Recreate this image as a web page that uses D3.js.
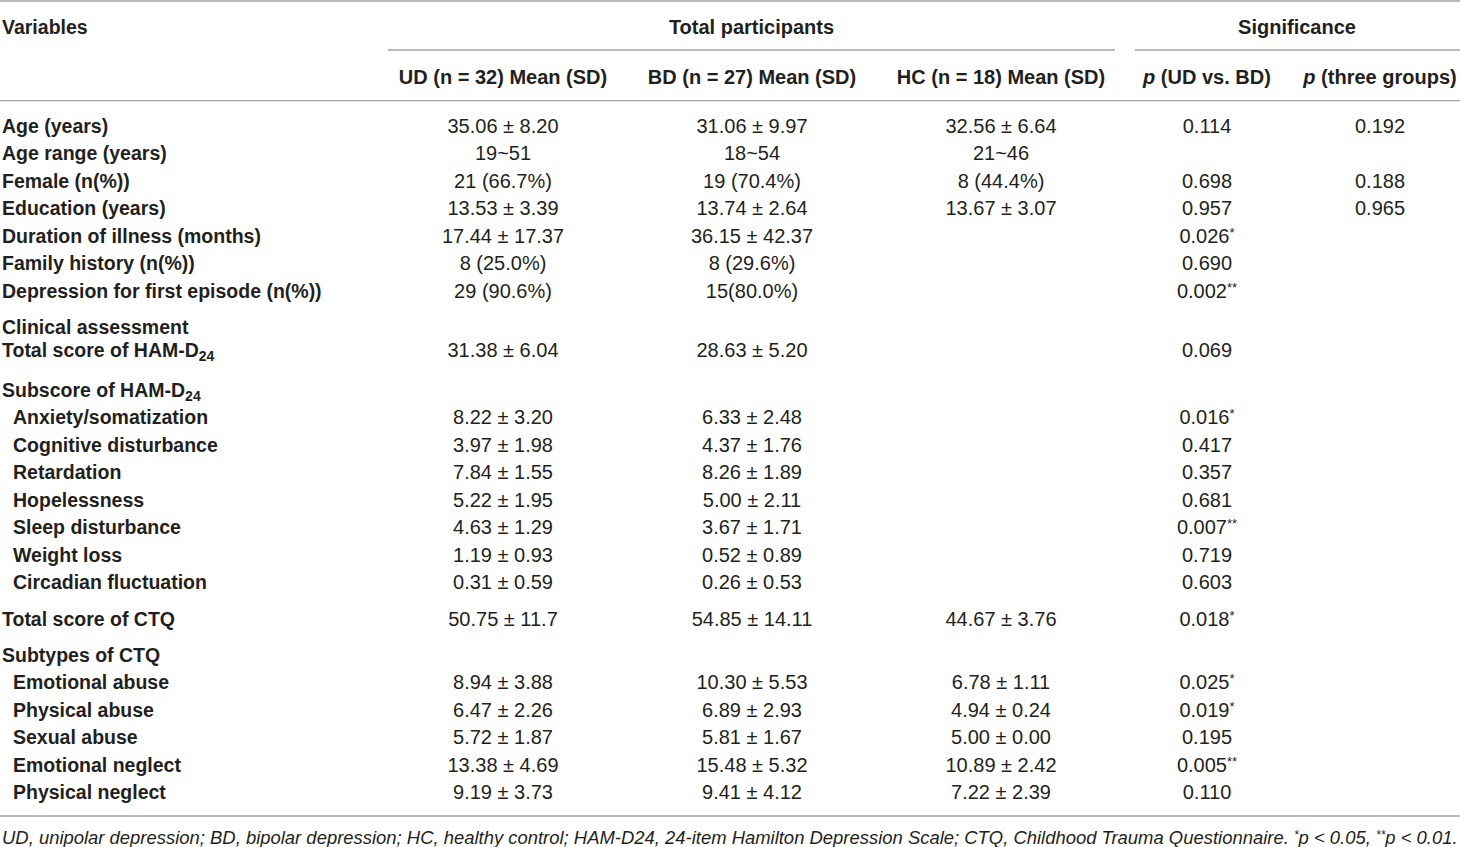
<!DOCTYPE html>
<html>
<head>
<meta charset="utf-8">
<script src="https://cdn.jsdelivr.net/npm/d3@7"></script>
<style>
  body { margin: 0; background: #fff; }
  svg text { font-family: "Liberation Sans", Arial, Helvetica, sans-serif; fill: #231f20; }
  .b { font-weight: bold; font-size: 19.5px; }
  .h { font-size: 20px; }
  .v { font-size: 20px; }
</style>
</head>
<body>
<svg id="chart" width="1460" height="847"></svg>
<script>
// table contents
var groupHeads = ["Total participants", "Significance"];
var colHeads = ["UD (n = 32) Mean (SD)", "BD (n = 27) Mean (SD)", "HC (n = 18) Mean (SD)"];
var sigHeads = ["(UD vs. BD)", "(three groups)"];

var labels = ["Age (years)", "Age range (years)", "Female (n(%))", "Education (years)",
  "Duration of illness (months)", "Family history (n(%))", "Depression for first episode (n(%))",
  "Clinical assessment", "Total score of HAM-D24", "Subscore of HAM-D24",
  "Anxiety/somatization", "Cognitive disturbance", "Retardation", "Hopelessness",
  "Sleep disturbance", "Weight loss", "Circadian fluctuation", "Total score of CTQ",
  "Subtypes of CTQ", "Emotional abuse", "Physical abuse", "Sexual abuse",
  "Emotional neglect", "Physical neglect"];
var level = [0,0,0,0,0,0,0,0,0,0,1,1,1,1,1,1,1,0,0,1,1,1,1,1];

var ud = ["35.06 ± 8.20","19~51","21 (66.7%)","13.53 ± 3.39","17.44 ± 17.37","8 (25.0%)","29 (90.6%)",
  "","31.38 ± 6.04","","8.22 ± 3.20","3.97 ± 1.98","7.84 ± 1.55","5.22 ± 1.95","4.63 ± 1.29",
  "1.19 ± 0.93","0.31 ± 0.59","50.75 ± 11.7","","8.94 ± 3.88","6.47 ± 2.26","5.72 ± 1.87",
  "13.38 ± 4.69","9.19 ± 3.73"];
var bd = ["31.06 ± 9.97","18~54","19 (70.4%)","13.74 ± 2.64","36.15 ± 42.37","8 (29.6%)","15(80.0%)",
  "","28.63 ± 5.20","","6.33 ± 2.48","4.37 ± 1.76","8.26 ± 1.89","5.00 ± 2.11","3.67 ± 1.71",
  "0.52 ± 0.89","0.26 ± 0.53","54.85 ± 14.11","","10.30 ± 5.53","6.89 ± 2.93","5.81 ± 1.67",
  "15.48 ± 5.32","9.41 ± 4.12"];
var hc = ["32.56 ± 6.64","21~46","8 (44.4%)","13.67 ± 3.07","","","",
  "","","","","","","","","","","44.67 ± 3.76","","6.78 ± 1.11","4.94 ± 0.24","5.00 ± 0.00",
  "10.89 ± 2.42","7.22 ± 2.39"];
var pUdBd = ["0.114","","0.698","0.957","0.026*","0.690","0.002**","","0.069","","0.016*","0.417",
  "0.357","0.681","0.007**","0.719","0.603","0.018*","","0.025*","0.019*","0.195","0.005**","0.110"];
var pThree = ["0.192","","0.188","0.965","","","","","","","","","","","","","","","","","","","",""];

var footnote = "UD, unipolar depression; BD, bipolar depression; HC, healthy control; HAM-D24, 24-item Hamilton Depression Scale; CTQ, Childhood Trauma Questionnaire. ";

var svg = d3.select("#chart");
var lineColor = "#a3a3a3";

// columns
var xGroup = d3.scalePoint().domain(colHeads).range([503, 1001]);
var xSig = d3.scalePoint().domain(sigHeads).range([1207, 1380]);

// rows: regular step, with extra space where a block starts
var extra = {"Clinical assessment": 8.5, "Total score of HAM-D24": -4.5, "Subscore of HAM-D24": 12.5,
  "Total score of CTQ": 9, "Subtypes of CTQ": 8.5};
var rowY = [];
var yy = 126;
labels.forEach(function(l, i){
    if (i > 0) yy += 27.5 + (extra[l] || 0);
    rowY.push(yy);
});

function hline(x1, x2, y){
    svg.append("line").attr("x1", x1).attr("x2", x2).attr("y1", y).attr("y2", y)
        .attr("stroke", lineColor).attr("stroke-width", 1.3);
}
hline(0, 1460, 1);
hline(388, 1115, 50);
hline(1135, 1460, 50);
hline(0, 1460, 100.7);
hline(0, 1460, 816);

// header
svg.append("text").attr("class", "b").attr("x", 2).attr("y", 33.5).text("Variables");
svg.append("text").attr("class", "b h").attr("x", 751.5).attr("y", 33.5)
    .attr("text-anchor", "middle").text(groupHeads[0]);
svg.append("text").attr("class", "b h").attr("x", 1297).attr("y", 33.5)
    .attr("text-anchor", "middle").text(groupHeads[1]);

svg.selectAll(".ch").data(colHeads).enter().append("text")
    .attr("class", "b h ch").attr("x", function(d){ return xGroup(d); }).attr("y", 83.5)
    .attr("text-anchor", "middle").text(function(d){ return d; });

var sh = svg.selectAll(".sh").data(sigHeads).enter().append("text")
    .attr("class", "b h sh").attr("x", function(d){ return xSig(d); }).attr("y", 83.5)
    .attr("text-anchor", "middle");
sh.append("tspan").attr("font-style", "italic").text("p");
sh.append("tspan").text(function(d){ return " " + d; });

// row labels, HAM-D24 gets a subscript
var lab = svg.selectAll(".lab").data(labels).enter().append("text")
    .attr("class", "b lab")
    .attr("x", function(d, i){ return level[i] ? 13 : 2; })
    .attr("y", function(d, i){ return rowY[i] + 6.5; });
lab.each(function(d){
    var t = d3.select(this);
    var m = d.match(/^(.*HAM-D)(24)$/);
    if (m) {
        t.append("tspan").text(m[1]);
        t.append("tspan").attr("font-size", "14px").attr("dy", 4).text(m[2]);
    } else {
        t.text(d);
    }
});

// value cells
function cell(txt, x, y){
    if (!txt) return;
    var t = svg.append("text").attr("class", "v").attr("x", x).attr("y", y)
        .attr("text-anchor", "middle");
    var m = txt.match(/^([^*]*)(\**)$/);
    t.append("tspan").text(m[1]);
    if (m[2]) t.append("tspan").attr("font-size", "13px").attr("dy", -6).text(m[2]);
}
var cols = [ud, bd, hc];
labels.forEach(function(l, i){
    cols.forEach(function(arr, c){ cell(arr[i], xGroup(colHeads[c]), rowY[i] + 6.5); });
    cell(pUdBd[i], xSig(sigHeads[0]), rowY[i] + 6.5);
    cell(pThree[i], xSig(sigHeads[1]), rowY[i] + 6.5);
});

// footnote
var fn = svg.append("text").attr("x", 2).attr("y", 843.5)
    .attr("font-style", "italic").attr("font-size", "18px");
fn.append("tspan").text(footnote);
fn.append("tspan").attr("font-size", "12px").attr("dy", -5).text("*");
fn.append("tspan").attr("dy", 5).text("p < 0.05, ");
fn.append("tspan").attr("font-size", "12px").attr("dy", -5).text("**");
fn.append("tspan").attr("dy", 5).text("p < 0.01.");
var w = fn.node().getComputedTextLength();
fn.attr("font-size", (18 * 1456 / w).toFixed(2) + "px");
</script>
</body>
</html>
